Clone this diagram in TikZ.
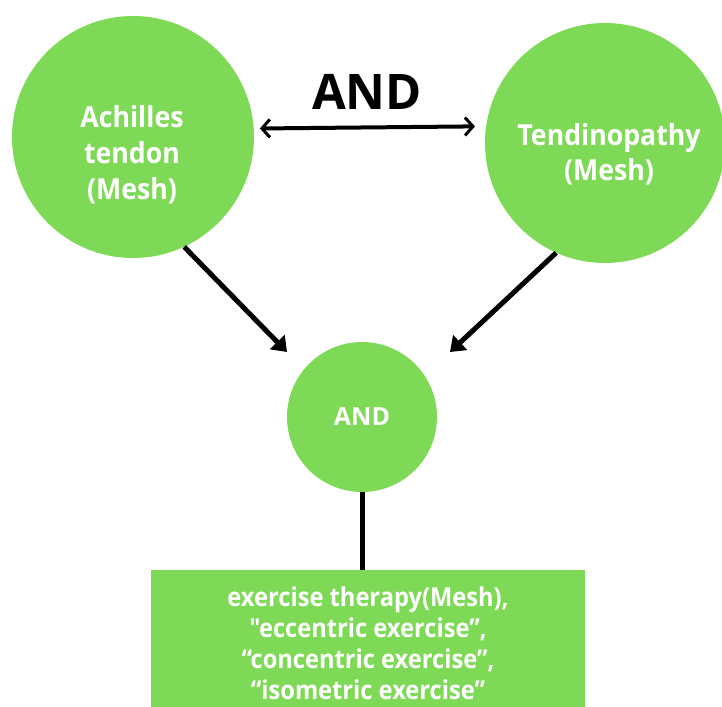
\documentclass[tikz,border=0pt]{standalone}
\usepackage{fontspec}
\setmainfont{Open Sans}
\newfontfamily\condfont{Open Sans}[FakeStretch=0.92]
\newfontfamily\boxfont{Open Sans}[FakeStretch=0.91]
\usetikzlibrary{arrows.meta}
\definecolor{leaf}{HTML}{7ED957}
\tikzset{
  bubble/.style={circle, fill=leaf, draw=none, inner sep=0pt},
  bubbletext/.style={text=white, align=center, inner sep=0pt, font=\condfont\bfseries\fontsize{29}{36}\selectfont},
  conn/.style={line width=5pt, -{Triangle[length=14pt,width=20pt]}},
  link/.style={line width=4pt, {Straight Barb[length=8pt,width=18pt,line width=3pt]}-{Straight Barb[length=8pt,width=18pt,line width=3pt]}}
}
\begin{document}
\begin{tikzpicture}[x=1pt,y=-1pt]
\useasboundingbox (0,0) rectangle (722,706);
\clip (0,0) rectangle (722,706);
\node[bubble, minimum size=242pt] (L) at (133,137) {};
\node[bubbletext] (Lt) at (132,155) {Achilles\\ tendon\\ (Mesh)};
\node[bubble, minimum size=240pt] (R) at (605,143) {};
\node[bubbletext, font=\condfont\bfseries\fontsize{29}{35}\selectfont] (Rt) at (609,154) {Tendinopathy\\ (Mesh)};
\node[bubble, minimum size=150pt, text=white, font=\bfseries\fontsize{25}{26}\selectfont] (M) at (362,417)
  {AND};
\node[fill=leaf, minimum width=434pt, minimum height=146pt, inner sep=0pt, text=white, align=center,
  font=\boxfont\bfseries\fontsize{26}{31}\selectfont] (B) at (368,643)
  {exercise therapy(Mesh),\\ "eccentric exercise”,\\ “concentric exercise”,\\ “isometric exercise”};
\node[font=\bfseries\fontsize{49}{52}\selectfont] (T) at (367,92) {AND};
\coordinate (la) at (287,352);
\coordinate (ra) at (450,352);
\draw[conn] (L.-65) -- (la);
\draw[conn] (R.-114) -- (ra);
\draw[link, shorten <=6pt, shorten >=11pt] (L.4.3) -- (R.172.8);
\draw[line width=5pt] (M.south) -- (M.south |- B.north);
\end{tikzpicture}
\end{document}
